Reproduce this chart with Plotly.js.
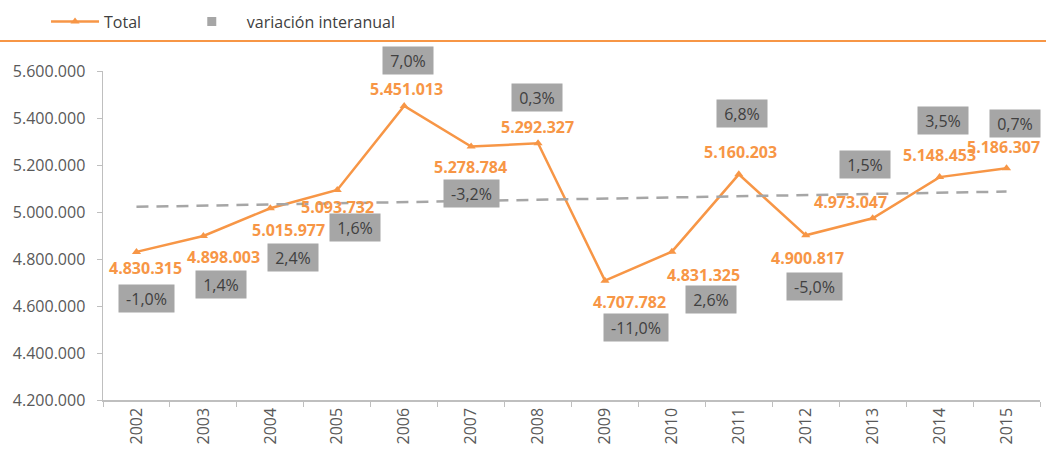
<!DOCTYPE html>
<html>
<head>
<meta charset="utf-8">
<script src="https://cdn.plot.ly/plotly-3.0.1.min.js"></script>
<style>
html,body{margin:0;padding:0;background:#fff;}
#chart{width:1046px;height:464px;}
</style>
</head>
<body>
<div id="chart"></div>
<script>
// Data
const years = ['2002','2003','2004','2005','2006','2007','2008','2009','2010','2011','2012','2013','2014','2015'];
const totals = [4830315, 4898003, 5015977, 5093732, 5451013, 5278784, 5292327, 4707782, 4831325, 5160203, 4900817, 4973047, 5148453, 5186307];
const variation = [-1.0, 1.4, 2.4, 1.6, 7.0, -3.2, 0.3, -11.0, 2.6, 6.8, -5.0, 1.5, 3.5, 0.7];
const trendYears = ['2002', '2015'];
const trendValues = [5022000, 5087000];
const yTicks = [4200000, 4400000, 4600000, 4800000, 5000000, 5200000, 5400000, 5600000];

// Label offsets (pixels) relative to each point: [dx, dy] (dy positive = down)
const valueOffsets = [[9,16],[20,21],[18,22],[0,17],[2,-17],[-1,21],[-1,-16],[25,21],[32,23],[2,-22],[2,23],[-22,-16],[0,-22],[-3,-21]];
const pctOffsets = [[10,47],[18,49],[23,49],[18,38],[4,-46],[0,47],[-1,-46],[31,47],[39,48],[3,-61],[9,51],[-8,-54],[3,-57],[8,-45]];

const ORANGE = '#f79646';
const FONT = 'Open Sans, Lato, sans-serif';

function fmtThousands(v){
  return String(Math.round(v)).replace(/\B(?=(\d{3})+(?!\d))/g, '.');
}
function fmtPct(v){
  return v.toFixed(1).replace('.', ',') + '%';
}
const ctx = document.createElement('canvas').getContext('2d');
ctx.font = '16px "Open Sans"';
function textW(s){ return ctx.measureText(s).width; }

const annotations = [];
years.forEach((yr, i) => {
  annotations.push({
    x: i, y: totals[i], xref: 'x', yref: 'y',
    text: '<b>' + fmtThousands(totals[i]) + '</b>',
    showarrow: false, xanchor: 'center', yanchor: 'middle',
    xshift: valueOffsets[i][0], yshift: -valueOffsets[i][1],
    font: {family: FONT, size: 16, color: ORANGE}
  });
  const t = fmtPct(variation[i]);
  annotations.push({
    x: i, y: totals[i], xref: 'x', yref: 'y',
    text: t,
    showarrow: false, xanchor: 'center', yanchor: 'middle',
    xshift: pctOffsets[i][0], yshift: -pctOffsets[i][1],
    width: Math.round(textW(t) + 10), height: 23, align: 'center', valign: 'middle',
    bgcolor: '#a6a6a6', borderpad: 2,
    font: {family: FONT, size: 16, color: '#404040'}
  });
});

const traces = [
  {
    x: years, y: totals, type: 'scatter', mode: 'lines+markers', name: 'Total',
    line: {color: ORANGE, width: 2.5},
    marker: {symbol: 'triangle-up', size: 8, color: ORANGE},
    legend: 'legend'
  },
  {
    x: years, y: years.map(() => null), type: 'scatter', mode: 'markers',
    name: 'variación interanual',
    marker: {symbol: 'square', size: 9, color: '#a6a6a6'},
    legend: 'legend2'
  },
  {
    x: trendYears, y: trendValues, type: 'scatter', mode: 'lines',
    line: {color: '#a6a6a6', width: 2.5, dash: '12px,8px'},
    showlegend: false, hoverinfo: 'skip'
  }
];

const layout = {
  width: 1046, height: 464,
  margin: {l: 103, r: 6, t: 71, b: 64},
  paper_bgcolor: '#ffffff', plot_bgcolor: '#ffffff',
  separators: ',.',
  font: {family: FONT, size: 16, color: '#595959'},
  showlegend: true,
  legend: {
    orientation: 'h', xref: 'container', yref: 'container',
    x: 0.044, y: 0.99, xanchor: 'left', yanchor: 'top',
    font: {family: FONT, size: 16, color: '#404040'},
    itemwidth: 48, bgcolor: 'rgba(0,0,0,0)'
  },
  legend2: {
    orientation: 'h', xref: 'container', yref: 'container',
    x: 0.169, y: 0.99, xanchor: 'left', yanchor: 'top',
    font: {family: FONT, size: 16, color: '#404040'},
    itemwidth: 60, bgcolor: 'rgba(0,0,0,0)'
  },
  xaxis: {
    type: 'category', categoryorder: 'array', categoryarray: years,
    range: [-0.5, 13.5],
    showgrid: false, zeroline: false,
    showline: true, linecolor: '#bfbfbf', linewidth: 1.5,
    ticks: 'outside', tickson: 'boundaries', ticklen: 5, tickcolor: '#bfbfbf',
    tickangle: -90, tickfont: {family: FONT, size: 16, color: '#595959'}
  },
  yaxis: {
    range: [4200000, 5600000], tickvals: yTicks, tickformat: ',d',
    showgrid: false, zeroline: false,
    showline: true, linecolor: '#bfbfbf', linewidth: 1.5,
    ticks: 'outside', ticklen: 5, tickcolor: '#bfbfbf', ticklabelstandoff: 8,
    tickfont: {family: FONT, size: 16, color: '#595959'}
  },
  shapes: [{
    type: 'line', xref: 'paper', yref: 'paper',
    x0: -0.11, x1: 1.02, y0: 1.0912, y1: 1.0912,
    line: {color: ORANGE, width: 2}
  }],
  annotations: annotations
};

Plotly.newPlot('chart', traces, layout, {displayModeBar: false, staticPlot: true});
</script>
</body>
</html>
